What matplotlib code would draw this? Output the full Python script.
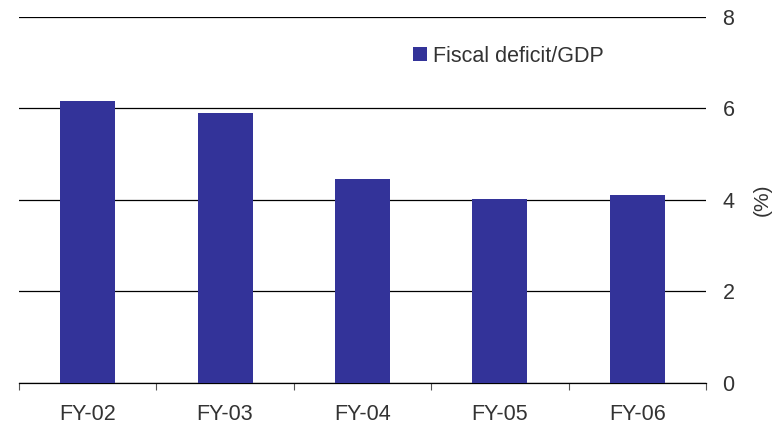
import numpy as np
import matplotlib
matplotlib.use("Agg")
import matplotlib.pyplot as plt

plt.rcParams['font.family'] = ['Liberation Sans', 'DejaVu Sans']

years = ["FY-02", "FY-03", "FY-04", "FY-05", "FY-06"]
deficit = [6.17, 5.90, 4.45, 4.02, 4.10]
yticks = [0, 2, 4, 6, 8]

bar_color = "#333399"
text_color = "#333333"

fig = plt.figure(figsize=(7.74, 4.25), dpi=100)
ax = fig.add_axes([0.0245, 0.099, 0.8875, 0.861])

x = np.arange(len(years))
ax.bar(x, deficit, width=0.4, color=bar_color, label="Fiscal deficit/GDP", zorder=3)

ax.set_xlim(-0.5, len(years) - 0.5)
ax.set_ylim(0, 8)

# gridlines behind bars
ax.set_yticks(yticks)
ax.yaxis.grid(True, color="black", linewidth=0.9, zorder=0)
ax.set_axisbelow(True)

ax.yaxis.tick_right()
ax.yaxis.set_label_position("right")
ax.tick_params(axis="y", length=0, pad=12, labelsize=15.5, labelcolor=text_color)
ax.set_ylabel("(%)", fontsize=15, color=text_color, labelpad=13)

# category ticks sit between bars
ax.set_xticks(np.arange(len(years) + 1) - 0.5)
ax.set_xticklabels([])
ax.set_xticks(x, minor=True)
ax.set_xticklabels(years, minor=True)
ax.tick_params(axis="x", which="major", length=5, width=0.8, color="#555555", direction="out")
ax.tick_params(axis="x", which="minor", length=0, pad=15, labelsize=15.5, labelcolor=text_color)

for s in ["top", "left", "right"]:
    ax.spines[s].set_visible(False)
ax.spines["bottom"].set_linewidth(0.9)

ax.legend(loc="upper left", bbox_to_anchor=(0.546, 0.975), frameon=False,
          fontsize=15.5, handlelength=0.65, handleheight=0.65, handletextpad=0.28,
          labelcolor=text_color)

fig.savefig("out.png", dpi=100)
